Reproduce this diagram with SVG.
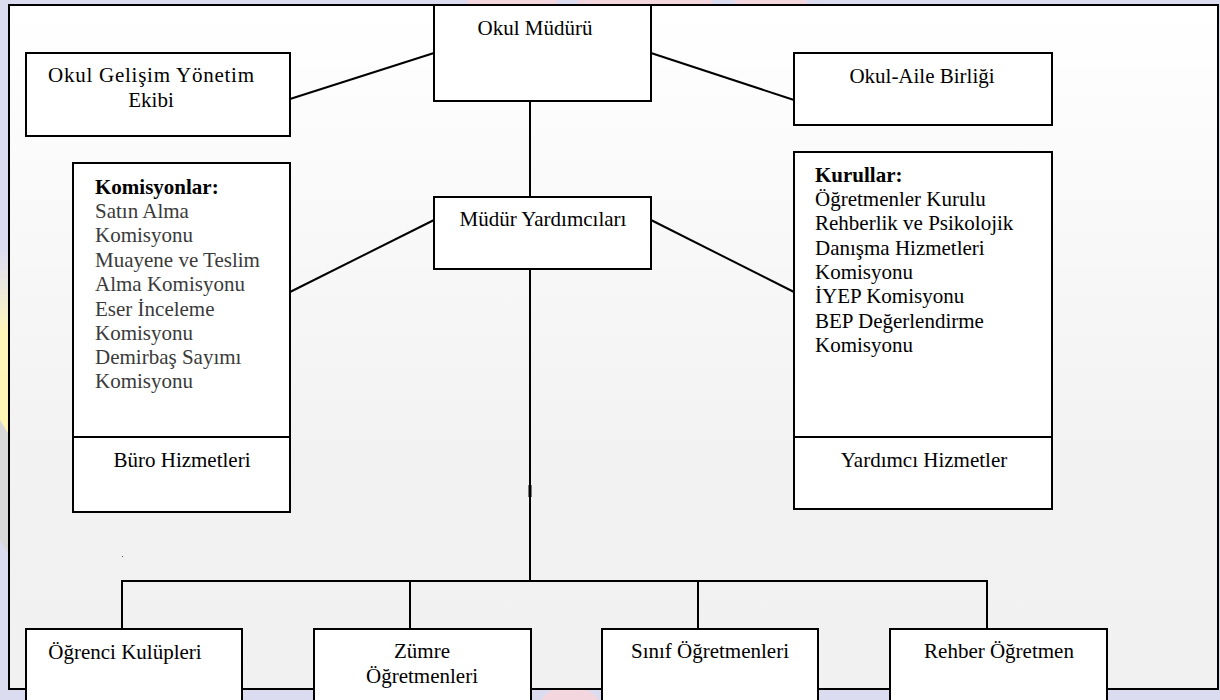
<svg xmlns="http://www.w3.org/2000/svg" width="1220" height="700" viewBox="0 0 1220 700" font-family="'Liberation Serif', 'Times New Roman', serif">
<defs>
<linearGradient id="frameFill" x1="0" y1="0" x2="0" y2="1">
<stop offset="0" stop-color="#ffffff"/>
<stop offset="0.65" stop-color="#f2f2f2"/>
<stop offset="1" stop-color="#f1f1f1"/>
</linearGradient>
<linearGradient id="yel" x1="0" y1="0" x2="0" y2="1">
<stop offset="0" stop-color="#fffbd0" stop-opacity="0"/>
<stop offset="0.3" stop-color="#fff6b8"/>
<stop offset="1" stop-color="#fff3b0"/>
</linearGradient>
</defs>
<style>
.box{fill:#ffffff;stroke:#000000;stroke-width:2}
.ln{fill:none;stroke:#000000;stroke-width:2}
.t{font-family:"Liberation Serif","Times New Roman",serif;font-size:21px;fill:#000000}
.c{text-anchor:middle}
.g{fill:#3a3a3a}
.b{font-weight:bold}
</style>
<g id="background">
<rect x="0" y="0" width="1220" height="700" fill="#dcdcf0"/>
<rect x="467" y="0" width="90" height="6" fill="#f4d6de"/>
<rect x="578" y="0" width="134" height="6" fill="#f4d6de"/>
<rect x="735" y="0" width="71" height="6" fill="#f4d6de"/>
<polygon points="0,250 12,250 12,520 0,470" fill="url(#yel)"/>
<polygon points="0,420 12,440 12,560 0,540" fill="#d8d8d8"/>
<circle cx="570" cy="720" r="35" fill="#f4d6de"/>
<polygon points="1000,700 1030,688 1050,688 1030,700" fill="#d8d8d8"/>
</g>
<rect id="frame" x="9" y="5" width="1209" height="684" fill="url(#frameFill)" stroke="#000000" stroke-width="2"/>
<g id="connectors">
<line class="ln" x1="290" y1="99" x2="434" y2="53"/>
<line class="ln" x1="651" y1="53" x2="794" y2="100"/>
<line class="ln" x1="530" y1="101" x2="530" y2="197"/>
<line class="ln" x1="434" y1="220" x2="290" y2="292"/>
<line class="ln" x1="651" y1="220" x2="794" y2="292"/>
<line class="ln" x1="530" y1="269" x2="530" y2="581"/>
<line x1="530" y1="485" x2="530" y2="497" stroke="#000" stroke-width="3"/>
<polyline class="ln" points="122,629 122,581 987,581 987,629"/>
<line class="ln" x1="410" y1="581" x2="410" y2="629"/>
<line class="ln" x1="698" y1="581" x2="698" y2="629"/>
</g>
<rect x="122" y="556" width="1" height="1" fill="#555"/>
<g id="okul-muduru">
<rect class="box" x="434" y="5" width="217" height="96"/>
<text class="t c" x="535" y="35">Okul Müdürü</text>
</g>
<g id="okul-gelisim">
<rect class="box" x="26" y="53" width="264" height="83"/>
<text class="t c" x="151" y="82" textLength="206" lengthAdjust="spacing">Okul Gelişim Yönetim</text>
<text class="t c" x="151" y="107">Ekibi</text>
</g>
<g id="okul-aile">
<rect class="box" x="794" y="53" width="258" height="72"/>
<text class="t c" x="922" y="83">Okul-Aile Birliği</text>
</g>
<g id="mudur-yardimcilari">
<rect class="box" x="434" y="197" width="217" height="72"/>
<text class="t c" x="543" y="226">Müdür Yardımcıları</text>
</g>
<g id="komisyonlar">
<rect class="box" x="73" y="163" width="217" height="349"/>
<line class="ln" x1="73" y1="437" x2="290" y2="437"/>
<text class="t b" x="95" y="194">Komisyonlar:</text>
<text class="t g" x="95" y="218">Satın Alma</text>
<text class="t g" x="95" y="242">Komisyonu</text>
<text class="t g" x="95" y="267">Muayene ve Teslim</text>
<text class="t g" x="95" y="291">Alma Komisyonu</text>
<text class="t g" x="95" y="316">Eser İnceleme</text>
<text class="t g" x="95" y="340">Komisyonu</text>
<text class="t g" x="95" y="364">Demirbaş Sayımı</text>
<text class="t g" x="95" y="388">Komisyonu</text>
<text class="t c" x="182" y="467">Büro Hizmetleri</text>
</g>
<g id="kurullar">
<rect class="box" x="794" y="152" width="258" height="357"/>
<line class="ln" x1="794" y1="437" x2="1052" y2="437"/>
<text class="t b" x="815" y="182">Kurullar:</text>
<text class="t" x="815" y="206">Öğretmenler Kurulu</text>
<text class="t" x="815" y="230">Rehberlik ve Psikolojik</text>
<text class="t" x="815" y="255">Danışma Hizmetleri</text>
<text class="t" x="815" y="279">Komisyonu</text>
<text class="t" x="815" y="303">İYEP Komisyonu</text>
<text class="t" x="815" y="328">BEP Değerlendirme</text>
<text class="t" x="815" y="352">Komisyonu</text>
<text class="t c" x="924" y="467">Yardımcı Hizmetler</text>
</g>
<g id="ogrenci-kulupleri">
<rect class="box" x="26" y="629" width="216" height="80"/>
<text class="t c" x="125" y="659">Öğrenci Kulüpleri</text>
</g>
<g id="zumre">
<rect class="box" x="314" y="629" width="217" height="80"/>
<text class="t c" x="422" y="658">Zümre</text>
<text class="t c" x="422" y="683">Öğretmenleri</text>
</g>
<g id="sinif">
<rect class="box" x="602" y="629" width="216" height="80"/>
<text class="t c" x="710" y="658">Sınıf Öğretmenleri</text>
</g>
<g id="rehber">
<rect class="box" x="890" y="629" width="217" height="80"/>
<text class="t c" x="999" y="658">Rehber Öğretmen</text>
</g>
</svg>
